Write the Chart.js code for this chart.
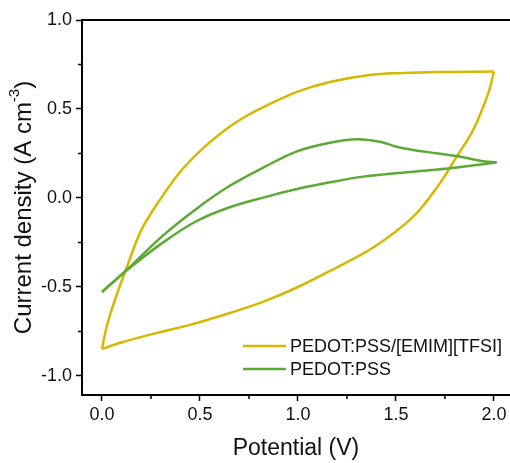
<!DOCTYPE html>
<html>
<head>
<meta charset="utf-8">
<script src="https://cdn.jsdelivr.net/npm/chart.js@4.4.1/dist/chart.umd.min.js"></script>
<style>
    html, body { margin: 0; padding: 0; background: #fff; }
</style>
</head>
<body>
<canvas id="cvChart" width="510" height="463"></canvas>
<script>
// PEDOT:PSS/[EMIM][TFSI] loop: forward (anodic) and reverse branches
const emimFwdV = [0, 0.024, 0.066, 0.134, 0.203, 0.305, 0.407, 0.526, 0.644, 0.738, 0.832, 0.995, 1.163, 1.367, 1.536, 1.709, 2.0];
const emimFwdJ = [-0.848, -0.723, -0.573, -0.367, -0.175, 0.005, 0.157, 0.29, 0.395, 0.462, 0.515, 0.596, 0.652, 0.691, 0.702, 0.708, 0.71];
const emimRevV = [2.0, 1.971, 1.894, 1.81, 1.724, 1.588, 1.39, 1.163, 0.995, 0.821, 0.653, 0.449, 0.281, 0.107, 0];
const emimRevJ = [0.71, 0.588, 0.382, 0.232, 0.082, -0.105, -0.274, -0.41, -0.503, -0.584, -0.646, -0.713, -0.758, -0.809, -0.848];

// PEDOT:PSS loop
const pssFwdV = [0, 0.117, 0.305, 0.474, 0.644, 0.832, 0.995, 1.163, 1.30, 1.418, 1.503, 1.588, 1.707, 1.843, 1.945, 2.014];
const pssFwdJ = [-0.528, -0.414, -0.217, -0.067, 0.063, 0.176, 0.262, 0.31, 0.33, 0.316, 0.288, 0.27, 0.251, 0.229, 0.206, 0.2];
const pssRevV = [2.014, 1.911, 1.776, 1.588, 1.333, 1.163, 0.995, 0.832, 0.644, 0.474, 0.305, 0.117, 0];
const pssRevJ = [0.2, 0.185, 0.167, 0.148, 0.12, 0.088, 0.05, 0.005, -0.055, -0.135, -0.255, -0.414, -0.528];

const seriesNames = ["PEDOT:PSS/[EMIM][TFSI]", "PEDOT:PSS"];
const xTicks = [0, 0.5, 1.0, 1.5, 2.0];
const yTicks = [-1.0, -0.5, 0.0, 0.5, 1.0];
const xMinor = [0.25, 0.75, 1.25, 1.75];
const yMinor = [-0.75, -0.25, 0.25, 0.75];

const YELLOW = "#d6b800";
const GREEN = "#5caa36";
const FONT = '"Liberation Sans", Arial, sans-serif';

const pts = (xs, ys) => xs.map((v, i) => ({ x: v, y: ys[i] }));
const branch = (label, data, color) => ({
    label, data, borderColor: color, borderWidth: 2.5, pointRadius: 0,
    showLine: true, tension: 0.35, fill: false
});

const decorations = {
    id: "decorations",
    afterDraw(chart) {
        const { ctx, chartArea: a, scales: { x, y } } = chart;
        ctx.save();
        ctx.strokeStyle = "#000";
        ctx.lineWidth = 2;
        ctx.beginPath();
        ctx.moveTo(a.left - 1, a.top);
        ctx.lineTo(a.right, a.top);
        ctx.stroke();

        // minor ticks
        ctx.lineWidth = 1.5;
        ctx.beginPath();
        xMinor.forEach((v) => {
            const px = x.getPixelForValue(v);
            ctx.moveTo(px, a.bottom);
            ctx.lineTo(px, a.bottom + 4);
        });
        yMinor.forEach((v) => {
            const py = y.getPixelForValue(v);
            ctx.moveTo(a.left, py);
            ctx.lineTo(a.left - 4, py);
        });
        ctx.stroke();

        // legend
        const legendColors = [YELLOW, GREEN];
        ctx.font = `18px ${FONT}`;
        ctx.textBaseline = "middle";
        ctx.fillStyle = "#111";
        seriesNames.forEach((name, i) => {
            const ly = 346 + i * 23;
            ctx.strokeStyle = legendColors[i];
            ctx.lineWidth = 2.5;
            ctx.beginPath();
            ctx.moveTo(243, ly);
            ctx.lineTo(286, ly);
            ctx.stroke();
            ctx.fillText(name, 290, ly + 1);
        });

        // x title
        ctx.textAlign = "center";
        ctx.font = `23px ${FONT}`;
        ctx.fillText("Potential (V)", (a.left + a.right) / 2, 449);

        // y title with superscript
        ctx.translate(24, (a.top + a.bottom) / 2);
        ctx.rotate(-Math.PI / 2);
        ctx.textAlign = "left";
        const main = "Current density (A cm";
        const sup = "-3";
        ctx.font = `24px ${FONT}`;
        const wMain = ctx.measureText(main).width;
        const wClose = ctx.measureText(")").width;
        ctx.font = `15px ${FONT}`;
        const wSup = ctx.measureText(sup).width;
        let cx = -(wMain + wSup + wClose) / 2;
        ctx.font = `24px ${FONT}`;
        ctx.fillText(main, cx, 0);
        cx += wMain;
        ctx.font = `15px ${FONT}`;
        ctx.fillText(sup, cx, -9);
        cx += wSup;
        ctx.font = `24px ${FONT}`;
        ctx.fillText(")", cx, 0);
        ctx.restore();
    }
};

new Chart(document.getElementById("cvChart"), {
    type: "scatter",
    data: {
        datasets: [
            branch(seriesNames[1], pts(pssFwdV, pssFwdJ), GREEN),
            branch(seriesNames[1], pts(pssRevV, pssRevJ), GREEN),
            branch(seriesNames[0], pts(emimFwdV, emimFwdJ), YELLOW),
            branch(seriesNames[0], pts(emimRevV, emimRevJ), YELLOW)
        ]
    },
    options: {
        responsive: false,
        animation: false,
        layout: { padding: { top: 20, right: 0, left: 0, bottom: 0 } },
        plugins: { legend: { display: false }, tooltip: { enabled: false } },
        scales: {
            x: {
                type: "linear",
                min: -0.102,
                max: 2.082,
                afterBuildTicks: (s) => { s.ticks = xTicks.map((v) => ({ value: v })); },
                afterFit: (s) => { s.height = 68; },
                ticks: {
                    color: "#111",
                    font: { family: FONT, size: 18 },
                    padding: 3,
                    maxRotation: 0,
                    callback: (v) => Number(v).toFixed(1)
                },
                grid: { drawOnChartArea: false, drawTicks: true, tickLength: 6, tickColor: "#000", tickWidth: 1.5 },
                border: { display: true, color: "#000", width: 2 }
            },
            y: {
                type: "linear",
                min: -1.107,
                max: 1.0,
                afterBuildTicks: (s) => { s.ticks = yTicks.map((v) => ({ value: v })); },
                afterFit: (s) => { s.width = 82; },
                ticks: {
                    color: "#111",
                    font: { family: FONT, size: 18 },
                    padding: 4,
                    callback: (v) => Number(v).toFixed(1)
                },
                grid: { drawOnChartArea: false, drawTicks: true, tickLength: 6, tickColor: "#000", tickWidth: 1.5 },
                border: { display: true, color: "#000", width: 2 }
            }
        }
    },
    plugins: [decorations]
});
</script>
</body>
</html>
